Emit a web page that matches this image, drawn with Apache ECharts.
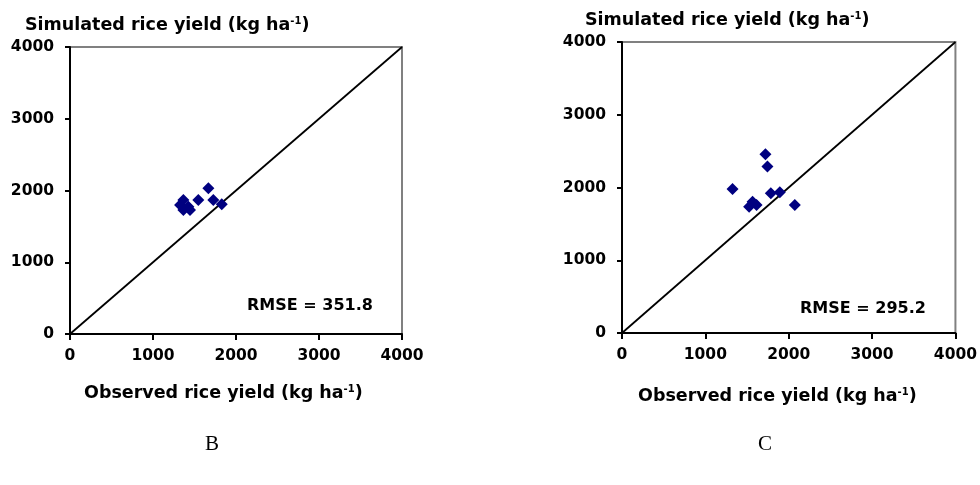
<!DOCTYPE html>
<html><head><meta charset="utf-8">
<script src="https://cdn.jsdelivr.net/npm/echarts@6/dist/echarts.min.js"></script>
<style>html,body{margin:0;padding:0;background:#fff}#c{width:980px;height:485px}</style>
</head><body><div id="c"></div>
<script>
// Panel B: observed vs simulated rice yield (kg/ha)
const obsB = [1366, 1326, 1426, 1366, 1446, 1546, 1667, 1727, 1828];
const simB = [1868, 1798, 1775, 1729, 1729, 1868, 2031, 1868, 1808];
// Panel C
const obsC = [1721, 1745, 1326, 1785, 1893, 1566, 1525, 1614, 2073];
const simC = [2457, 2287, 1980, 1921, 1935, 1805, 1737, 1760, 1760];
const lineXY = [0, 4000];
const ticks = [0, 1000, 2000, 3000, 4000];
const panelLabels = ['B', 'C'];
const rmse = ['RMSE = 351.8', 'RMSE = 295.2'];

const FONT = 'DejaVu Sans';
const chart = echarts.init(document.getElementById('c'), null, {renderer: 'canvas'});
const grids = [
  {left: 70, top: 47, width: 332, height: 287},
  {left: 622, top: 42, width: 334, height: 291}
];
const fmt = function (v) { return ticks.indexOf(v) >= 0 ? String(v) : ''; };
function xAx(i) {
  return {gridIndex: i, type: 'value', min: 0, max: 4000, interval: 1000,
    axisLine: {show: true, lineStyle: {color: '#000', width: 2}},
    axisTick: {show: true, inside: false, length: 6, lineStyle: {color: '#000', width: 2}},
    axisLabel: {margin: 14, formatter: fmt, color: '#000', fontFamily: FONT, fontWeight: 'bold', fontSize: 15.5},
    splitLine: {show: false}};
}
function yAx(i) {
  return {gridIndex: i, type: 'value', min: 0, max: 4000, interval: 1000,
    axisLine: {show: true, lineStyle: {color: '#000', width: 2}},
    axisTick: {show: true, inside: false, length: 5, lineStyle: {color: '#000', width: 2}},
    axisLabel: {margin: 16, formatter: fmt, color: '#000', fontFamily: FONT, fontWeight: 'bold', fontSize: 15.5},
    splitLine: {show: false}};
}
const rich = {
  a: {fontFamily: FONT, fontWeight: 'bold', fontSize: 17.5, color: '#000'},
  s: {fontFamily: FONT, fontWeight: 'bold', fontSize: 10, color: '#000', verticalAlign: 'top', padding: [0, 0, 9, 0]}
};
function ttl(text, left, top) {
  return {text: text, left: left, top: top, padding: 0, itemGap: 0,
    textStyle: {rich: rich, fontFamily: FONT, fontWeight: 'bold', fontSize: 17.5, color: '#000'}};
}
const simTitle = '{a|Simulated rice yield (kg ha}{s|-1}{a|)}';
const obsTitle = '{a|Observed rice yield (kg ha}{s|-1}{a|)}';

const series = [];
[[obsB, simB], [obsC, simC]].forEach(function (p, i) {
  series.push({type: 'line', xAxisIndex: i, yAxisIndex: i, data: lineXY.map(function (v) { return [v, v]; }),
    symbol: 'none', lineStyle: {color: '#000', width: 1.8}, silent: true, z: 3});
  series.push({type: 'scatter', xAxisIndex: i, yAxisIndex: i,
    data: p[0].map(function (v, k) { return [v, p[1][k]]; }),
    symbol: 'diamond', symbolSize: [12, 12], itemStyle: {color: '#000080', opacity: 1}, z: 4});
});

chart.setOption({
  animation: false,
  backgroundColor: '#fff',
  grid: grids.map(function (g) { return Object.assign({show: true, borderColor: '#808080', borderWidth: 2, backgroundColor: 'transparent'}, g); }),
  xAxis: [xAx(0), xAx(1)],
  yAxis: [yAx(0), yAx(1)],
  title: [
    ttl(simTitle, 25, 16),
    ttl(obsTitle, 84, 384),
    ttl(simTitle, 585, 11),
    ttl(obsTitle, 638, 387),
    {text: rmse[0], left: 247, top: 298, padding: 0, textStyle: {fontFamily: FONT, fontWeight: 'bold', fontSize: 16, color: '#000'}},
    {text: rmse[1], left: 800, top: 301, padding: 0, textStyle: {fontFamily: FONT, fontWeight: 'bold', fontSize: 16, color: '#000'}},
    {text: panelLabels[0], left: 205, top: 434, padding: 0, textStyle: {fontFamily: 'Liberation Serif', fontWeight: 'normal', fontSize: 21, color: '#000'}},
    {text: panelLabels[1], left: 758, top: 434, padding: 0, textStyle: {fontFamily: 'Liberation Serif', fontWeight: 'normal', fontSize: 21, color: '#000'}}
  ],
  series: series
});
</script></body></html>
